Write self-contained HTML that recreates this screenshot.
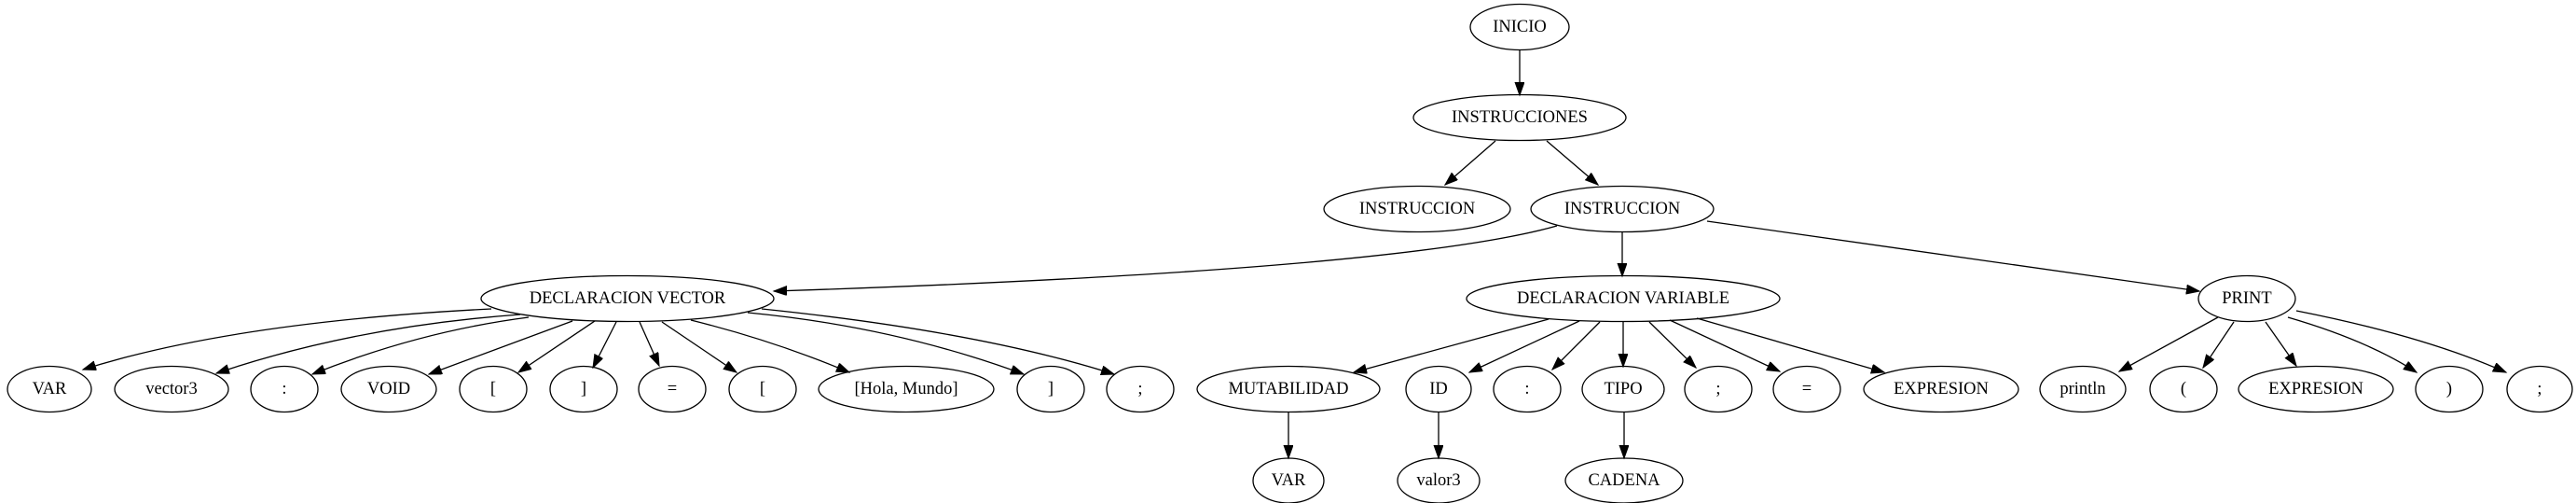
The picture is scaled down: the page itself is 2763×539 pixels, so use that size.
<!DOCTYPE html>
<html><head><meta charset="utf-8"><style>
html,body{margin:0;padding:0;background:#fff;}
svg{display:block;}
text{font-family:"Liberation Serif",serif;font-size:18.5px;text-anchor:middle;dominant-baseline:central;fill:#000;}
ellipse{fill:none;stroke:#000;stroke-width:1.3;}
path{fill:none;stroke:#000;stroke-width:1.3;}
</style></head><body>
<svg width="2763" height="539" viewBox="0 0 2763 539" xmlns="http://www.w3.org/2000/svg">
<defs><marker id="a" markerUnits="userSpaceOnUse" markerWidth="16" markerHeight="12" refX="14" refY="5" orient="auto"><path d="M0,0 L14,5 L0,10 z" style="fill:#000;stroke:#000;stroke-width:1"/></marker></defs>
<g marker-end="url(#a)">
<path d="M1630,54 L1630,102"/>
<path d="M1604,151 L1550,198"/>
<path d="M1659,151 L1714,198"/>
<path d="M1670,242 Q1500,290 830,312"/>
<path d="M1740,248 L1740,296"/>
<path d="M1831,237 L2359,312"/>
<path d="M527,331 Q250,345 89,396"/>
<path d="M558,337 Q380,350 232,400"/>
<path d="M567,340 Q450,355 335,401"/>
<path d="M614,344 L460,401"/>
<path d="M638,344 L556,399"/>
<path d="M661,345 L636,394"/>
<path d="M686,345 L707,392"/>
<path d="M710,345 L790,399"/>
<path d="M741,343 Q830,365 911,399"/>
<path d="M802,335 Q960,350 1098,401"/>
<path d="M817,331 Q1050,355 1195,401"/>
<path d="M1661,342 L1452,399"/>
<path d="M1694,344 L1576,399"/>
<path d="M1716,345 L1665,396"/>
<path d="M1741,345 L1741,393"/>
<path d="M1769,345 L1819,394"/>
<path d="M1791,343 L1909,398"/>
<path d="M1820,341 L2021,399"/>
<path d="M2379,340 L2273,398"/>
<path d="M2396,345 L2363,394"/>
<path d="M2430,345 L2463,392"/>
<path d="M2454,340 Q2540,365 2592,399"/>
<path d="M2463,333 Q2600,360 2688,399"/>
<path d="M1382,441 L1382,491"/>
<path d="M1543,441 L1543,491"/>
<path d="M1742,441 L1742,491"/>
</g>
<ellipse cx="1630" cy="29" rx="53" ry="24.5"/><text x="1630" y="29">INICIO</text>
<ellipse cx="1630" cy="126" rx="114" ry="24.5"/><text x="1630" y="126">INSTRUCCIONES</text>
<ellipse cx="1520" cy="224" rx="100" ry="24.5"/><text x="1520" y="224">INSTRUCCION</text>
<ellipse cx="1740" cy="224" rx="98" ry="24.5"/><text x="1740" y="224">INSTRUCCION</text>
<ellipse cx="673" cy="320" rx="157" ry="24.5"/><text x="673" y="320">DECLARACION VECTOR</text>
<ellipse cx="1741" cy="320" rx="168" ry="24.5"/><text x="1741" y="320">DECLARACION VARIABLE</text>
<ellipse cx="2410" cy="320" rx="52" ry="24.5"/><text x="2410" y="320">PRINT</text>
<g>
<ellipse cx="53" cy="417" rx="45" ry="24.5"/><text x="53" y="417">VAR</text>
<ellipse cx="184" cy="417" rx="61" ry="24.5"/><text x="184" y="417">vector3</text>
<ellipse cx="305" cy="417" rx="36" ry="24.5"/><text x="305" y="417">:</text>
<ellipse cx="417" cy="417" rx="51" ry="24.5"/><text x="417" y="417">VOID</text>
<ellipse cx="529" cy="417" rx="36" ry="24.5"/><text x="529" y="417">[</text>
<ellipse cx="626" cy="417" rx="36" ry="24.5"/><text x="626" y="417">]</text>
<ellipse cx="721" cy="417" rx="36" ry="24.5"/><text x="721" y="417">=</text>
<ellipse cx="818" cy="417" rx="36" ry="24.5"/><text x="818" y="417">[</text>
<ellipse cx="972" cy="417" rx="94" ry="24.5"/><text x="972" y="417">[Hola, Mundo]</text>
<ellipse cx="1127" cy="417" rx="36" ry="24.5"/><text x="1127" y="417">]</text>
<ellipse cx="1223" cy="417" rx="36" ry="24.5"/><text x="1223" y="417">;</text>
<ellipse cx="1382" cy="417" rx="98" ry="24.5"/><text x="1382" y="417">MUTABILIDAD</text>
<ellipse cx="1543" cy="417" rx="35" ry="24.5"/><text x="1543" y="417">ID</text>
<ellipse cx="1638" cy="417" rx="36" ry="24.5"/><text x="1638" y="417">:</text>
<ellipse cx="1741" cy="417" rx="44" ry="24.5"/><text x="1741" y="417">TIPO</text>
<ellipse cx="1843" cy="417" rx="36" ry="24.5"/><text x="1843" y="417">;</text>
<ellipse cx="1938" cy="417" rx="36" ry="24.5"/><text x="1938" y="417">=</text>
<ellipse cx="2082" cy="417" rx="83" ry="24.5"/><text x="2082" y="417">EXPRESION</text>
<ellipse cx="2234" cy="417" rx="46" ry="24.5"/><text x="2234" y="417">println</text>
<ellipse cx="2342" cy="417" rx="36" ry="24.5"/><text x="2342" y="417">(</text>
<ellipse cx="2484" cy="417" rx="83" ry="24.5"/><text x="2484" y="417">EXPRESION</text>
<ellipse cx="2627" cy="417" rx="36" ry="24.5"/><text x="2627" y="417">)</text>
<ellipse cx="2724" cy="417" rx="35" ry="24.5"/><text x="2724" y="417">;</text>
</g>
<ellipse cx="1382" cy="515" rx="38" ry="24"/><text x="1382" y="515">VAR</text>
<ellipse cx="1543" cy="515" rx="44" ry="24"/><text x="1543" y="515">valor3</text>
<ellipse cx="1742" cy="515" rx="63" ry="24"/><text x="1742" y="515">CADENA</text>
</svg>
</body></html>
